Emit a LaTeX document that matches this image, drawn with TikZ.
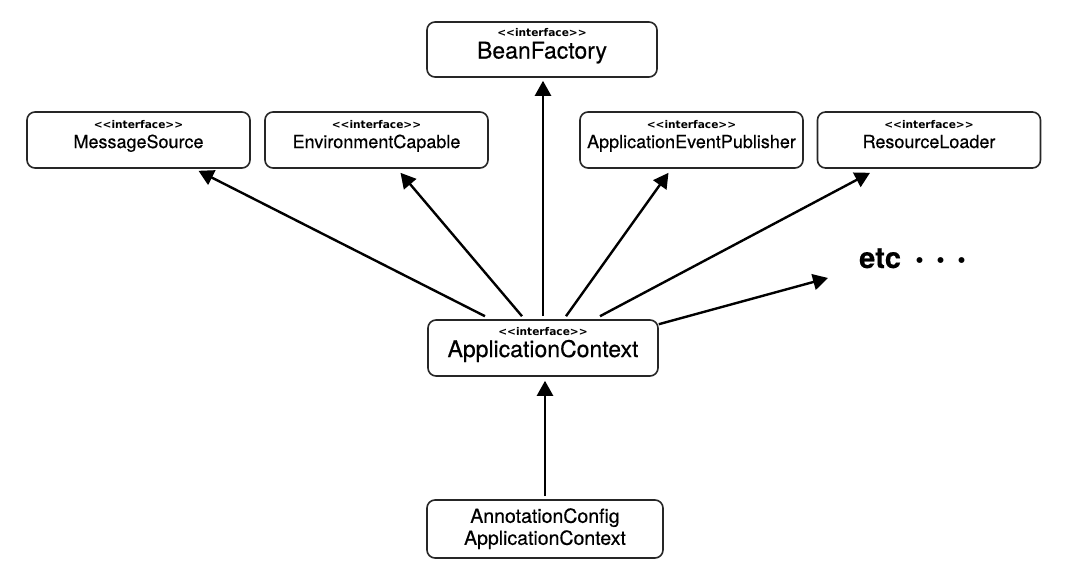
\documentclass[tikz,border=0pt]{standalone}
\usepackage{fontspec}
\setmainfont{TeX Gyre Heros}[FakeBold=0.4]
\newfontfamily\stereofont{DejaVu Sans}
\newfontfamily\cjkfont{Noto Sans CJK JP}
\usetikzlibrary{arrows.meta,calc}

\newcommand{\stereo}{{\stereofont\bfseries\fontsize{10.6}{12}\selectfont <<interface>>}}

\begin{document}
\begin{tikzpicture}[x=1pt,y=-1pt]
      \tikzstyle{iface}=[draw=black!85, line width=1.6pt, fill=white, rounded corners=8pt, minimum width=223pt, minimum height=56pt, align=center, inner sep=0pt, text depth=12pt, font=\fontsize{18}{20}\selectfont]
      \tikzstyle{iface_big}=[iface, minimum width=230pt, minimum height=55pt, font=\fontsize{23}{22}\selectfont]
      \tikzstyle{impl}=[iface, minimum width=236pt, minimum height=58pt, text depth=5pt, font=\fontsize{19.5}{22}\selectfont]
      \tikzstyle{inherit}=[-{Triangle[length=15pt,width=16pt]}, line width=2.4pt]

      \useasboundingbox (0,0) rectangle (1080,582);

      % top
      \node (beanfactory) [iface_big] at (542,49.5) {\stereo\\BeanFactory};

      % second row
      \node (messagesource) [iface] at (138.5,140) {\stereo\\MessageSource};
      \node (environment) [iface] at (376.5,140) {\stereo\\EnvironmentCapable};
      \node (eventpublisher) [iface] at (691.5,140) {\stereo\\ApplicationEventPublisher};
      \node (resourceloader) [iface] at (929,140) {\stereo\\ResourceLoader};

      \node (appcontext) [iface_big, minimum height=56pt] at (543,348) {\stereo\\ApplicationContext};
      \node (annotation) [impl] at (545,529) {AnnotationConfig\\ApplicationContext};

      \node (etc) [anchor=base west, inner sep=0pt] at (859,268) {\bfseries\fontsize{29}{30}\selectfont etc {\cjkfont\fontsize{21}{22}\selectfont ・・・}};
      \coordinate (etcend) at (828,278);

      % inheritance
      \draw [inherit] ($(appcontext.north)+(-58,-3)$) -- ($(messagesource.south)+(60,2)$);
      \draw [inherit] ($(appcontext.north)+(-21,-3)$) -- ($(environment.south)+(24,4)$);
      \draw [inherit] ($(appcontext.north)+(0,-3)$) -- ($(beanfactory.south)+(1,3)$);
      \draw [inherit] ($(appcontext.north)+(23,-3)$) -- ($(eventpublisher.south)+(-23,4)$);
      \draw [inherit] ($(appcontext.north)+(57,-3)$) -- ($(resourceloader.south)+(-59,4)$);
      \draw [inherit] ($(appcontext.north east)+(0,5)$) -- (etcend);
      \draw [inherit] ($(annotation.north)+(0,-3)$) -- ($(appcontext.south)+(2,4)$);
\end{tikzpicture}
\end{document}
